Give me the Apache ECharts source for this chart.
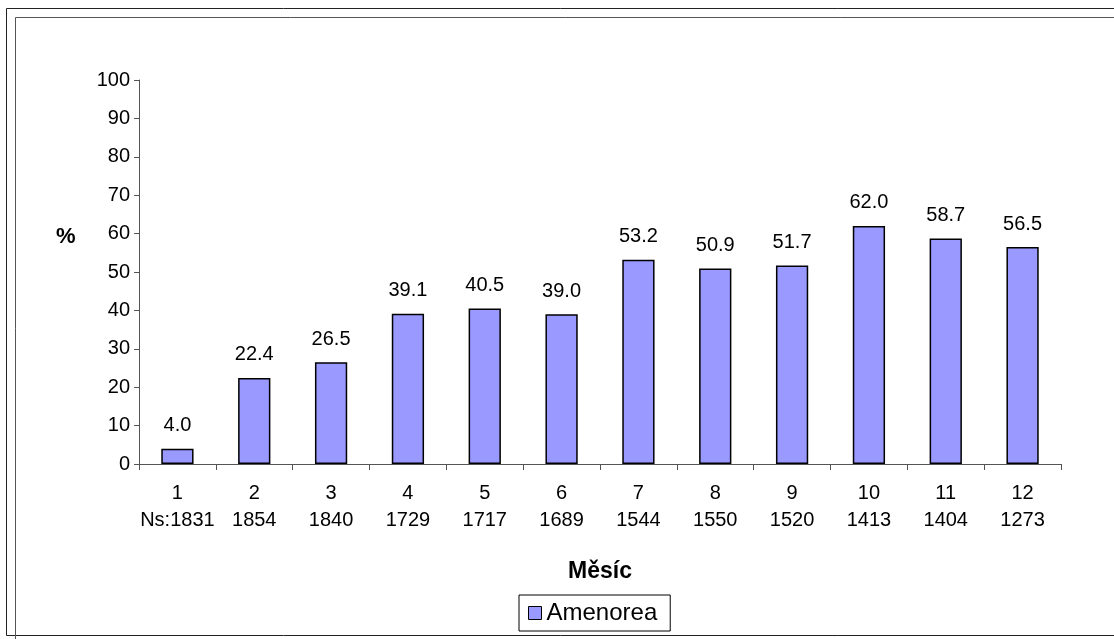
<!DOCTYPE html>
<html><head><meta charset="utf-8">
<script src="https://cdn.jsdelivr.net/npm/echarts@6/dist/echarts.min.js"></script>
<style>html,body{margin:0;padding:0;background:#fff}#c{width:1114px;height:639px}</style>
</head><body><div id="c"></div>
<script>
const months = ['1','2','3','4','5','6','7','8','9','10','11','12'];
const counts = ['Ns:1831','1854','1840','1729','1717','1689','1544','1550','1520','1413','1404','1273'];
const amenorea = [4.0,22.4,26.5,39.1,40.5,39.0,53.2,50.9,51.7,62.0,58.7,56.5];
const yTicks = [0,10,20,30,40,50,60,70,80,90,100];
const seriesName = 'Amenorea';

const font = 'Liberation Sans, Arial, sans-serif';
const chart = echarts.init(document.getElementById('c'), null, {renderer:'canvas'});
chart.setOption({
  animation:false,
  backgroundColor:'#fff',
  textStyle:{fontFamily:font},
  graphic:[
    {type:'rect', shape:{x:6.5,y:8.5,width:1120,height:627}, style:{fill:'none',stroke:'#222',lineWidth:1}, silent:true},
    {type:'rect', shape:{x:15.5,y:17.5,width:1120,height:650}, style:{fill:'none',stroke:'#555',lineWidth:1}, silent:true},
    {type:'text', left:56, top:226, style:{text:'%', font:'bold 22px '+font, fill:'#000'}}
  ],
  grid:{left:139, right:53, top:80, bottom:175, containLabel:false},
  legend:{
    data:[seriesName], left:519, top:595,
    itemWidth:13, itemHeight:13, itemGap:6,
    padding:[6,13,6,9],
    borderColor:'#000', borderWidth:1, borderRadius:0,
    textStyle:{fontSize:24, color:'#000', fontFamily:font},
    itemStyle:{borderColor:'#000', borderWidth:1},
    icon:'rect'
  },
  xAxis:{
    type:'category', data:months.map((m,i)=>m+'\n'+counts[i]),
    name:'Měsíc', nameLocation:'middle', nameGap:96,
    nameTextStyle:{fontSize:23, fontWeight:'bold', color:'#000', fontFamily:font},
    axisLine:{lineStyle:{color:'#555',width:1}},
    axisTick:{show:true, alignWithLabel:false, length:6, lineStyle:{color:'#555'}},
    axisLabel:{color:'#000', fontSize:20, lineHeight:27, margin:16, interval:0, fontFamily:font}
  },
  yAxis:{
    type:'value', min:yTicks[0], max:yTicks[yTicks.length-1], interval:10,
    axisLine:{show:true, lineStyle:{color:'#555',width:1}},
    axisTick:{show:true, length:5, lineStyle:{color:'#555'}},
    splitLine:{show:false},
    axisLabel:{color:'#000', fontSize:20, margin:9, fontFamily:font}
  },
  series:[{
    name:seriesName, type:'bar', data:amenorea, barWidth:'42%',
    itemStyle:{color:'#9999FF', borderColor:'#000', borderWidth:1.5},
    label:{show:true, position:'top', distance:13, color:'#000', fontSize:20, fontFamily:font,
      formatter:p=>p.value.toFixed(1)}
  }]
});
</script></body></html>
